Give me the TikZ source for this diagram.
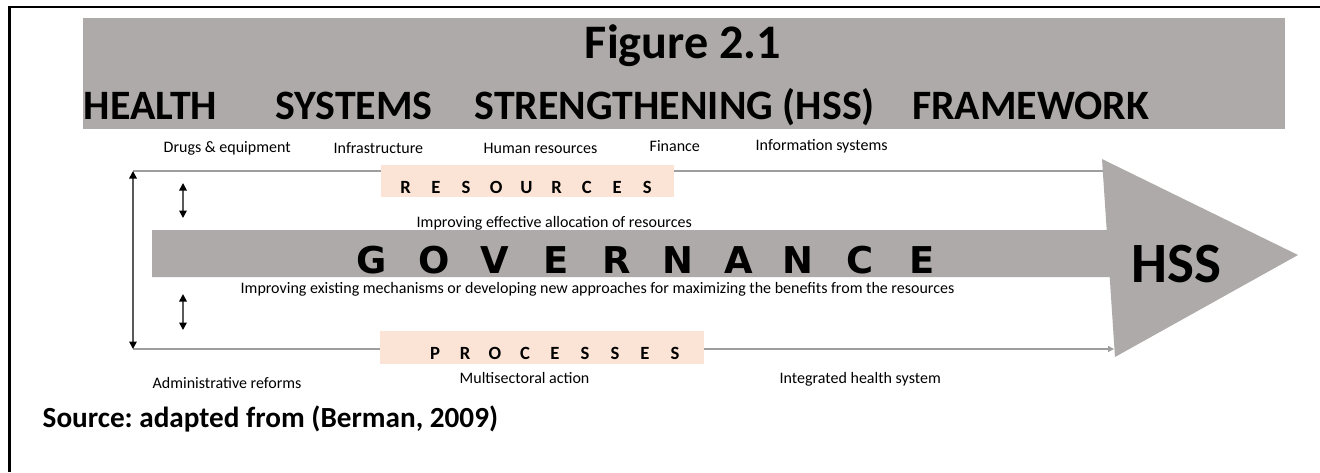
\documentclass[tikz,border=0pt]{standalone}
\usepackage{fontspec}
\setmainfont{Carlito}
\newfontfamily\heavyfont{DejaVu Sans}
\usetikzlibrary{arrows.meta}
\definecolor{bargray}{RGB}{174,170,169}
\definecolor{peach}{RGB}{251,228,213}
\colorlet{rulegray}{black!38}
\tikzset{
  hss/note/.style={font=\fontsize{4.55}{5.5}\selectfont, inner sep=0pt, anchor=base west},
  hss/head/.style={font=\bfseries\fontsize{11.9}{14}\selectfont, inner sep=0pt, anchor=base west},
  hss/spaced/.style={font=\bfseries\fontsize{5.3}{6}\selectfont, inner sep=0pt, anchor=base},
  hss/heavy/.style={font=\heavyfont\bfseries\fontsize{10.5}{12}\selectfont, inner sep=0pt, anchor=base},
  hss/thin/.style={rulegray, line width=0.4pt},
  hss/both/.style={black!65, line width=0.45pt,
    {Triangle[length=0.75mm,width=0.75mm,black]}-{Triangle[length=0.75mm,width=0.75mm,black]}}
}

\begin{document}
\begin{tikzpicture}[x=0.01cm, y=-0.01cm]
  \useasboundingbox (0,0) rectangle (1320,472);
  \draw[line width=0.6pt] (9.5,472) -- (9.5,7) -- (1320,7);
\fill[bargray] (83,18) rectangle (1285,129);
\node[hss/head, anchor=base, font=\bfseries\fontsize{13.7}{16}\selectfont] (fig) at (683,58) {Figure 2.1};
\node[hss/head] (w1) at (83,119) {HEALTH};
\node[hss/head] (w2) at (275,119) {SYSTEMS};
\node[hss/head] (w3) at (474,119) {STRENGTHENING (HSS)};
\node[hss/head, anchor=base east] (w4) at (1150,119) {FRAMEWORK};
\node[hss/note] (drugs) at (163,152) {Drugs \& equipment};
\node[hss/note] (infra) at (333,153) {Infrastructure};
\node[hss/note] (human) at (483,153) {Human resources};
\node[hss/note] (fin) at (649,151) {Finance};
\node[hss/note] (info) at (755,150) {Information systems};
\coordinate (ntop) at (133,171);
\coordinate (nbot) at (133,349);
\coordinate (etop) at (1106,171);
\coordinate (ebot) at (1114,349);
\draw[hss/thin] (ntop) -- (etop);
\draw[hss/thin, -{Triangle[length=0.6mm,width=0.6mm]}] (nbot) -- (ebot);
\draw[hss/both] (ntop) -- (nbot);
\coordinate (ua) at (183,183);
\coordinate (ub) at (183,218);
\coordinate (la) at (183,294);
\coordinate (lb) at (183,330);
\draw[hss/both] (ua) -- (ub);
\draw[hss/both] (la) -- (lb);
\fill[peach] (381,165) rectangle (674,197);
\fill[peach] (380,331) rectangle (704,364);
\node[hss/spaced] (r1) at (405.7,193) {R};
\node[hss/spaced] (r2) at (435.9,193) {E};
\node[hss/spaced] (r3) at (466.1,193) {S};
\node[hss/spaced] (r4) at (496.3,193) {O};
\node[hss/spaced] (r5) at (526.5,193) {U};
\node[hss/spaced] (r6) at (556.7,193) {R};
\node[hss/spaced] (r7) at (586.9,193) {C};
\node[hss/spaced] (r8) at (617.1,193) {E};
\node[hss/spaced] (r9) at (647.3,193) {S};
\node[hss/spaced] (p1) at (435,359) {P};
\node[hss/spaced] (p2) at (465,359) {R};
\node[hss/spaced] (p3) at (495,359) {O};
\node[hss/spaced] (p4) at (525,359) {C};
\node[hss/spaced] (p5) at (555,359) {E};
\node[hss/spaced] (p6) at (585,359) {S};
\node[hss/spaced] (p7) at (615,359) {S};
\node[hss/spaced] (p8) at (645,359) {E};
\node[hss/spaced] (p9) at (675,359) {S};
\node[hss/note] (alloc) at (416,227) {Improving effective allocation of resources};
\fill[bargray] (152,230) -- (1106.7,230) -- (1102,159) -- (1298,255) -- (1115,357)
  -- (1109.7,277) -- (152,277) -- cycle;
\node[hss/heavy] (g1) at (372.0,273) {G};
\node[hss/heavy] (g2) at (434.0,273) {O};
\node[hss/heavy] (g3) at (494.5,273) {V};
\node[hss/heavy] (g4) at (556.0,273) {E};
\node[hss/heavy] (g5) at (617.0,273) {R};
\node[hss/heavy] (g6) at (678.0,273) {N};
\node[hss/heavy] (g7) at (738.5,273) {A};
\node[hss/heavy] (g8) at (798.0,273) {N};
\node[hss/heavy] (g9) at (860.0,273) {C};
\node[hss/heavy] (g10) at (922.5,273) {E};
\node[hss/head, anchor=base, font=\bfseries\fontsize{16.2}{19}\selectfont] (hss) at (1176,282) {HSS};
\node[hss/note] (mech) at (240,293) {Improving existing mechanisms or developing new approaches for maximizing the benefits from the resources};
\node[hss/note] (admin) at (152,388) {Administrative reforms};
\node[hss/note] (multi) at (459,383) {Multisectoral action};
\node[hss/note] (integ) at (779,383) {Integrated health system};
\node[hss/head, font=\bfseries\fontsize{8.3}{10}\selectfont] (src) at (42,427) {Source:\ adapted from (Berman, 2009)};

\end{tikzpicture}
\end{document}
